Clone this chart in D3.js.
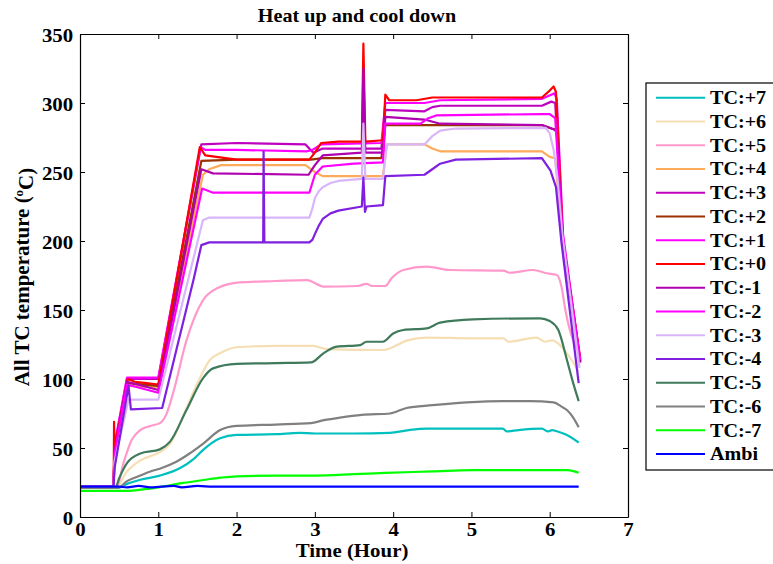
<!DOCTYPE html>
<html>
<head>
<meta charset="utf-8">
<script src="https://cdn.jsdelivr.net/npm/d3@7"></script>
<style>
  body { margin: 0; background: #fff; }
  svg { display: block; }
  text { font-family: "Liberation Serif", "Times New Roman", serif; font-weight: bold; fill: #000; }
</style>
</head>
<body>
<svg width="773" height="564"></svg>
<script>
// values: [hour, temperature °C]
const hourTicks = [0, 1, 2, 3, 4, 5, 6, 7];
const tempTicks = [0, 50, 100, 150, 200, 250, 300, 350];

const seriesNames = ["TC:+7", "TC:+6", "TC:+5", "TC:+4", "TC:+3", "TC:+2", "TC:+1", "TC:+0",
  "TC:-1", "TC:-2", "TC:-3", "TC:-4", "TC:-5", "TC:-6", "TC:-7", "Ambi"];
const seriesColors = ["#00bfbf", "#f5deb3", "#ff99cc", "#ffaa5a", "#bf00bf", "#993300", "#ff00ff", "#ff0000",
  "#b000b0", "#ff00ff", "#d8b6fa", "#7f1fe0", "#3f7a5c", "#808080", "#00ff00", "#0000ff"];
// the slow, far-off probes are drawn smoothed; the hot ones keep their sharp steps
const smoothSeries = new Set(["TC:+7", "TC:+6", "TC:+5", "TC:-5", "TC:-6", "TC:-7", "Ambi"]);

const tcP7 = [[0,21],[0.48,21],[0.6,24],[0.77,27],[1.02,30],[1.28,35.5],[1.45,42],[1.57,48.5],[1.79,57],[2.0,59.5],
  [2.5,60],[2.8,61],[3.0,60.5],[3.5,60.5],[3.96,61],[4.2,63],[4.43,64],[5.0,64],[5.4,64],[5.45,62],[5.6,63],
  [5.9,64],[5.98,62],[6.03,63],[6.1,62],[6.2,60],[6.37,54]];
const tcP6 = [[0,21],[0.45,21],[0.6,33],[0.77,41],[1.02,47],[1.15,53],[1.36,78.8],[1.5,97],[1.66,113.8],[1.8,119],
  [2.0,123],[2.5,124],[2.98,124],[3.15,121.7],[3.87,121],[4.05,124.6],[4.17,127.8],[4.43,130],[5.02,129.5],
  [5.41,129.5],[5.47,127],[5.83,130],[5.94,127],[6.03,128],[6.13,124.6],[6.2,120],[6.3,112],[6.37,105]];
const tcP5 = [[0,21],[0.47,22],[0.56,40],[0.66,55.8],[0.77,63],[0.9,66],[1.02,68],[1.1,74],[1.2,92],[1.36,128],
  [1.57,157],[1.75,165.7],[2.04,170],[2.5,171],[2.9,171.7],[3.11,167],[3.55,167.4],[3.66,169],[3.73,167.4],
  [3.9,167.4],[3.98,173],[4.13,179],[4.43,181.4],[4.73,179],[5.41,178.5],[5.49,177],[5.79,179],[5.96,176.6],
  [6.09,175.4],[6.15,167],[6.2,150],[6.39,117]];
const tcP4 = [[0,22],[0.43,22],[0.44,46],[0.6,95],[1.0,94],[1.57,248],[1.65,252],[1.8,255],[2.88,255],[2.95,252],
  [3.0,250],[3.1,247],[3.87,247],[3.92,270],[4.4,270],[4.5,267],[4.6,265],[5.9,265],[6.0,261],[6.07,260],
  [6.17,196],[6.39,112]];
const tcP3 = [[0,22],[0.43,22],[0.44,50],[0.6,100],[1.0,100],[1.55,270],[2.0,271],[2.88,270],[2.98,264],[3.1,267],
  [3.85,267],[3.9,295],[4.4,294],[4.5,297],[4.6,298],[5.9,298],[6.02,301],[6.07,300],[6.17,200],[6.39,112]];
const tcP2 = [[0,22],[0.43,22],[0.44,48],[0.6,97],[1.0,95],[1.55,258],[2.0,259],[2.95,259],[3.1,260],[3.85,260],
  [3.9,284],[5.9,284],[6.05,281],[6.09,281],[6.17,198],[6.39,113]];
const tcP1 = [[0,22],[0.43,22],[0.44,52],[0.6,101],[0.8,101],[1.0,101],[1.54,268],[1.6,266],[2.0,266],[2.9,265],
  [2.97,266],[3.08,270],[3.85,271],[3.9,300],[4.4,300],[4.6,302],[5.9,303],[6.02,306],[6.06,307],[6.09,303],
  [6.17,205],[6.39,113]];
const tcP0 = [[0,22],[0.43,22],[0.435,69],[0.44,50],[0.61,100],[0.7,98],[0.85,97],[1.0,96],[1.53,268],[1.6,262],
  [2.0,259],[2.5,259],[2.93,259],[3.0,264],[3.08,271],[3.3,272],[3.6,272],[3.62,343],[3.645,272],[3.87,273],
  [3.9,306],[3.95,302],[4.3,302],[4.5,304],[5.0,304],[5.5,304],[5.9,304],[6.0,309],[6.05,312],[6.08,308],
  [6.17,200],[6.39,115]];
const tcM1 = [[0,22],[0.43,22],[0.44,46],[0.6,98],[1.0,92],[1.55,252],[1.7,249],[2.92,248],[3.0,255],[3.1,262],
  [3.6,264],[3.62,325],[3.645,264],[3.87,264],[3.9,290],[4.4,288],[4.6,285],[5.9,284],[6.05,281],[6.09,279],
  [6.17,196],[6.39,112]];
const tcM2 = [[0,22],[0.43,22],[0.44,45],[0.6,96],[1.0,90],[1.56,238],[1.7,235],[2.93,235],[3.0,248],[3.1,254],
  [3.5,256],[3.87,257],[3.9,285],[4.35,285],[4.45,289],[4.55,291],[5.9,292],[6.0,292],[6.07,289],[6.17,200],[6.39,114]];
const tcM3 = [[0,22],[0.43,22],[0.44,40],[0.62,85],[1.0,85],[1.57,215],[1.65,217],[2.93,217],[2.97,224],[3.0,231],
  [3.05,236],[3.1,239],[3.2,242],[3.3,243.5],[3.6,245],[3.62,285],[3.645,245],[3.87,245],[3.92,270],[4.4,270],
  [4.5,276],[4.6,280],[4.8,281.5],[5.95,282],[6.0,278],[6.05,266],[6.1,245],[6.16,205],[6.38,108]];
const tcM4 = [[0,22],[0.43,22],[0.44,35],[0.62,95],[0.65,78],[1.05,79],[1.45,172],[1.55,197],[1.65,199],[2.34,199],
  [2.345,265],[2.355,199],[2.93,199],[2.97,201],[3.0,205],[3.05,211],[3.1,216],[3.2,220],[3.3,222],[3.6,225],
  [3.62,246],[3.64,221],[3.66,225],[3.87,226],[3.9,247],[4.4,248],[4.5,252],[4.6,256],[4.8,259],[5.9,260],
  [6.01,251],[6.08,239],[6.15,199],[6.37,97]];
const tcM5 = [[0,21],[0.45,21],[0.5,28],[0.6,39],[0.77,46],[1.02,49],[1.15,54.6],[1.36,77.5],[1.57,100.5],[1.7,107.7],
  [2.0,111],[2.5,111.5],[2.95,112],[3.11,118.6],[3.28,123.4],[3.58,124.6],[3.66,127],[3.87,127],[4.0,133],
  [4.13,135.5],[4.43,136.7],[4.6,140.8],[5.02,143.2],[5.88,144],[6.0,142],[6.11,135.5],[6.22,113.8],[6.3,97],[6.37,84]];
const tcM6 = [[0,21],[0.48,21],[0.6,26],[0.77,30],[0.9,33],[1.02,35],[1.23,40],[1.4,46],[1.57,53],[1.79,63],[2.0,66],
  [2.5,67],[2.95,68],[3.1,70],[3.32,72],[3.6,74],[3.96,75],[4.17,79],[4.5,81],[4.94,83],[5.4,84],[5.75,84],
  [6.05,83],[6.15,80],[6.22,77.5],[6.3,72],[6.37,65]];
const tcM7 = [[0,19],[0.6,19],[0.8,20],[1.0,21.5],[1.3,24.5],[1.6,27],[1.8,28.5],[2.0,29.5],[2.5,30],[3.0,30],
  [3.5,31],[3.9,32],[4.5,33],[5.0,34],[5.5,34],[6.0,34],[6.23,34],[6.37,32]];
const ambi = [[0,22],[0.5,22],[0.6,21.5],[0.75,22.5],[0.9,21.5],[1.2,22.5],[1.3,21.5],[1.5,22.5],[1.7,22],[6.37,22]];

const seriesData = [tcP7, tcP6, tcP5, tcP4, tcP3, tcP2, tcP1, tcP0, tcM1, tcM2, tcM3, tcM4, tcM5, tcM6, tcM7, ambi];

const svg = d3.select("svg");
const plotLeft = 80, plotRight = 628, plotTop = 34, plotBottom = 517;

const x = d3.scaleLinear().domain([0, 7]).range([plotLeft, plotRight]);
const y = d3.scaleLinear().domain([0, 350]).range([plotBottom, plotTop]);

// title
svg.append("text")
  .attr("transform", "translate(357,21.5) scale(1.12,1)")
  .attr("text-anchor", "middle")
  .style("font-size", "18px")
  .text("Heat up and cool down");

// lines
const smoothLine = d3.line().x(d => x(d[0])).y(d => y(d[1])).curve(d3.curveMonotoneX);
const sharpLine = d3.line().x(d => x(d[0])).y(d => y(d[1]));
svg.append("g")
  .selectAll("path")
  .data(seriesData)
  .join("path")
  .attr("d", (d, i) => smoothSeries.has(seriesNames[i]) ? smoothLine(d) : sharpLine(d))
  .attr("fill", "none")
  .attr("stroke", (d, i) => seriesColors[i])
  .attr("stroke-width", 2.2)
  .attr("stroke-linejoin", "round");

// axes (ticks point inward on all four sides)
const styleAxis = g => {
  g.select(".domain").attr("stroke", "#000").attr("stroke-width", 1.2);
  g.selectAll(".tick line").attr("stroke", "#000");
  g.selectAll(".tick text").style("font-size", "18.5px").attr("fill", "#000");
};

svg.append("g")
  .attr("transform", `translate(0,${plotBottom})`)
  .call(d3.axisBottom(x).tickValues(hourTicks).tickFormat(d3.format("d"))
    .tickSizeInner(-5).tickSizeOuter(0).tickPadding(6))
  .call(styleAxis)
  .call(g => g.selectAll(".tick text").attr("transform", "scale(1.13,1)"));

svg.append("g")
  .attr("transform", `translate(${plotLeft},0)`)
  .call(d3.axisLeft(y).tickValues(tempTicks).tickFormat(d3.format("d"))
    .tickSizeInner(-5).tickSizeOuter(0).tickPadding(6))
  .call(styleAxis)
  .call(g => g.selectAll(".tick text").attr("dy", "0.4em").attr("transform", "scale(1.13,1)"));

svg.append("g")
  .attr("transform", `translate(0,${plotTop})`)
  .call(d3.axisTop(x).tickValues(hourTicks).tickSizeInner(-5).tickSizeOuter(0).tickFormat(""))
  .call(styleAxis);

svg.append("g")
  .attr("transform", `translate(${plotRight},0)`)
  .call(d3.axisRight(y).tickValues(tempTicks).tickSizeInner(-5).tickSizeOuter(0).tickFormat(""))
  .call(styleAxis);

// axis labels
svg.append("text")
  .attr("transform", "translate(352,557) scale(1.13,1)")
  .attr("text-anchor", "middle")
  .style("font-size", "18.5px")
  .text("Time (Hour)");

const yLabel = svg.append("text")
  .attr("transform", "translate(29,277) rotate(-90)")
  .attr("text-anchor", "middle")
  .style("font-size", "21px");
yLabel.append("tspan").text("All TC temperature (");
yLabel.append("tspan").attr("dy", "-0.45em").style("font-size", "13px").text("o");
yLabel.append("tspan").attr("dy", "0.45em").text("C)");

// legend
const legendTop = 83, rowStep = 23.75;
svg.append("rect")
  .attr("x", 646).attr("y", legendTop)
  .attr("width", 140).attr("height", 387)
  .attr("fill", "#fff").attr("stroke", "#000").attr("stroke-width", 1.2);

const items = svg.append("g")
  .selectAll("g")
  .data(seriesNames)
  .join("g")
  .attr("transform", (d, i) => `translate(0,${97.7 + i * rowStep})`);

items.append("line")
  .attr("x1", 656).attr("x2", 705)
  .attr("stroke", (d, i) => seriesColors[i])
  .attr("stroke-width", 2);

items.append("text")
  .attr("transform", "translate(710,6.5) scale(1.06,1)")
  .style("font-size", "19px")
  .text(d => d);
</script>
</body>
</html>
